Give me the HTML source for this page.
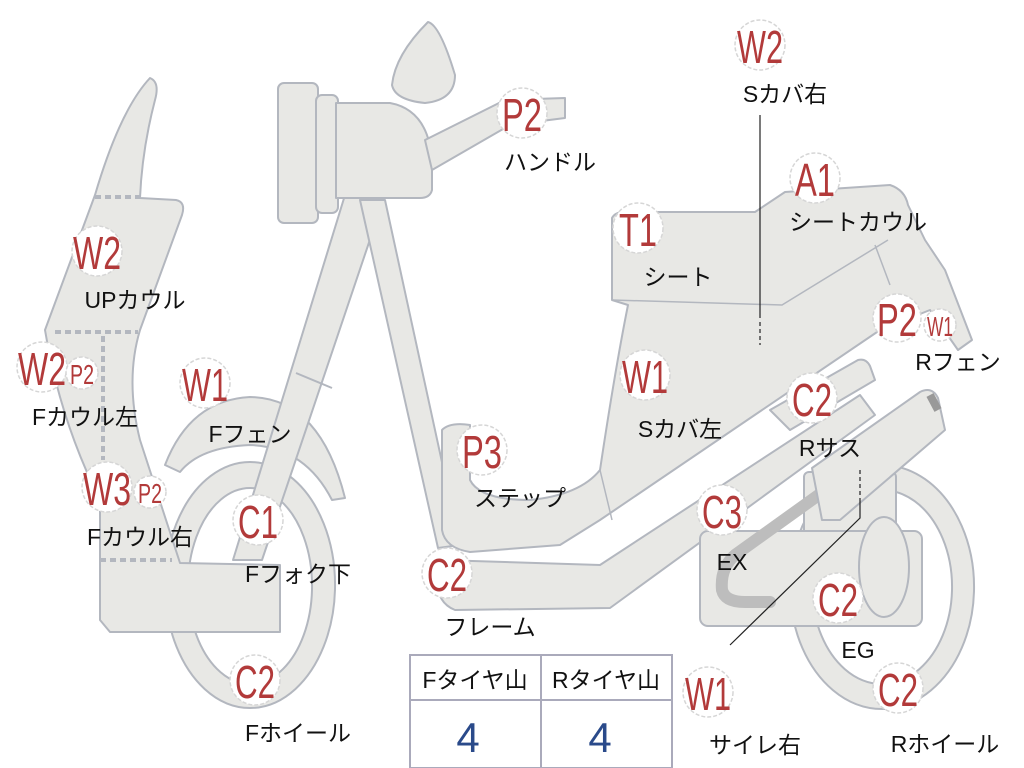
<!DOCTYPE html>
<html><head><meta charset="utf-8"><style>
html,body{margin:0;padding:0;background:#fff;width:1024px;height:768px;overflow:hidden}
svg{display:block}
.b{fill:#e8e8e5;stroke:#b3b7bf;stroke-width:2;stroke-linejoin:round}
.c{fill:#fff;stroke:#d6d6d6;stroke-width:1.5;stroke-dasharray:4 2}
.r{fill:#b23a3a;font-family:"Liberation Sans",sans-serif;text-anchor:middle}
.k{fill:#111;font-family:"Liberation Sans","Noto Sans CJK JP",sans-serif;font-size:23px;text-anchor:middle}
</style></head><body>
<svg width="1024" height="768" viewBox="0 0 1024 768">
<!-- front wheel -->
<path class="b" fill-rule="evenodd" d="M250,462 a85,123 0 1,0 0.1,0 Z M250,488 a62,98 0 1,0 0.1,0 Z"/>
<!-- front cowl -->
<path class="b" d="M150,78 Q160,82 155,100 Q142,150 140,198 L176,200 Q186,202 182,215 L140,330 Q125,380 140,440 L180,563 L280,565 L280,632 L110,632 L100,620 L100,500 Q60,420 45,330 L95,195 Q120,110 150,78 Z"/>
<path d="M95,197 L140,197 M55,332 L138,332 M103,336 L103,460 M100,560 L172,560" stroke="#b3b7bf" stroke-width="4" stroke-dasharray="6 4" fill="none"/>
<!-- fender -->
<path class="b" d="M165,465 Q190,400 250,397 Q320,398 345,498 L332,500 Q305,447 250,445 Q200,447 180,472 Z"/>
<!-- fork -->
<path class="b" d="M345,195 L385,195 L262,560 L233,560 Z"/>
<path d="M296,373 L332,388" stroke="#b3b7bf" stroke-width="2"/>
<!-- frame down tube -->
<path class="b" d="M360,200 L385,200 L460,545 L438,548 Z"/>
<!-- body -->
<path class="b" d="M442,430 Q450,422 470,425 L470,480 Q480,500 530,500 Q580,495 600,470 Q615,370 628,305 L612,300 L612,218 Q615,212 625,212 L755,212 L785,192 L890,185 Q905,190 908,205 L925,240 L945,270 L972,340 L958,350 L930,310 L880,330 L600,520 L560,545 L470,552 Q445,548 442,530 Z"/>
<path d="M612,300 L782,305 L888,240 M600,470 L612,520 M875,245 L890,285" stroke="#b3b7bf" stroke-width="1.5" fill="none"/>
<!-- lower frame -->
<path class="b" d="M440,560 L600,565 L860,395 L875,415 L610,608 L455,610 Q430,600 440,560 Z"/>
<!-- rear wheel -->
<path class="b" fill-rule="evenodd" d="M882,465 a92,122 0 1,0 0.1,0 Z M882,490 a70,97 0 1,0 0.1,0 Z"/>
<!-- engine -->
<rect class="b" x="804" y="472" width="92" height="65" rx="5"/>
<rect class="b" x="700" y="531" width="222" height="95" rx="8"/>
<ellipse class="b" cx="884" cy="567" rx="25" ry="50"/>
<path d="M820,494 L735,555 Q720,568 722,590 Q725,602 745,602 L770,602" stroke="#bdbdbd" stroke-width="12" fill="none" stroke-linecap="round"/>
<!-- rear suspension -->
<path class="b" d="M770,410 L858,360 Q866,358 870,366 L875,380 L790,430 Z"/>
<path class="b" d="M812,468 L920,392 Q932,386 938,398 L945,430 L840,520 L822,520 Z"/>
<path d="M930,395 L938,410" stroke="#999" stroke-width="8"/>
<!-- headlight -->
<rect class="b" x="278" y="83" width="40" height="140" rx="6"/>
<rect class="b" x="316" y="95" width="22" height="118" rx="6"/>
<path class="b" d="M336,103 L390,103 Q428,110 432,160 L432,190 Q430,198 420,198 L336,198 Z"/>
<path class="b" d="M425,140 L505,100 L565,98 L565,118 L510,125 L432,170 Z"/>
<path class="b" d="M428,22 Q440,25 455,75 Q455,100 425,103 Q395,100 392,85 Q395,55 428,22 Z"/>
<!-- lines -->
<path d="M760,115 L760,318" stroke="#222" stroke-width="1.2"/>
<path d="M760,322 L760,345" stroke="#222" stroke-width="1.2" stroke-dasharray="4 3"/>
<path d="M860,470 L860,500" stroke="#222" stroke-width="1.2" stroke-dasharray="4 3"/>
<path d="M860,500 L860,518 L730,645" stroke="#222" stroke-width="1.2" fill="none"/>
<!-- table -->
<rect x="410" y="655" width="262" height="113" fill="#fff" stroke="#aab" stroke-width="2"/>
<path d="M410,700 L672,700 M541,655 L541,768" stroke="#aab" stroke-width="2"/>
<text class="k" x="475" y="688">Fタイヤ山</text>
<text class="k" x="606" y="688">Rタイヤ山</text>
<text x="468" y="752" fill="#2a4a8a" font-family="Liberation Sans,sans-serif" font-size="42" text-anchor="middle">4</text>
<text x="600" y="752" fill="#2a4a8a" font-family="Liberation Sans,sans-serif" font-size="42" text-anchor="middle">4</text>

<g>
<circle class="c" cx="760" cy="45" r="25"/><text class="r" x="760" y="63" font-size="46" textLength="46" lengthAdjust="spacingAndGlyphs">W2</text>
<circle class="c" cx="522" cy="113" r="25"/><text class="r" x="522" y="131" font-size="46" textLength="40" lengthAdjust="spacingAndGlyphs">P2</text>
<circle class="c" cx="815" cy="178" r="25"/><text class="r" x="815" y="196" font-size="46" textLength="40" lengthAdjust="spacingAndGlyphs">A1</text>
<circle class="c" cx="638" cy="228" r="25"/><text class="r" x="638" y="246" font-size="46" textLength="38" lengthAdjust="spacingAndGlyphs">T1</text>
<circle class="c" cx="97" cy="251" r="25"/><text class="r" x="97" y="269" font-size="46" textLength="48" lengthAdjust="spacingAndGlyphs">W2</text>
<circle class="c" cx="897" cy="318" r="24"/><text class="r" x="897" y="336" font-size="46" textLength="40" lengthAdjust="spacingAndGlyphs">P2</text>
<circle class="c" cx="940" cy="325" r="16"/><text class="r" x="940" y="336" font-size="28" textLength="26" lengthAdjust="spacingAndGlyphs">W1</text>
<circle class="c" cx="42" cy="367" r="25"/><text class="r" x="42" y="385" font-size="46" textLength="48" lengthAdjust="spacingAndGlyphs">W2</text>
<circle class="c" cx="82" cy="373" r="16"/><text class="r" x="82" y="384" font-size="28" textLength="24" lengthAdjust="spacingAndGlyphs">P2</text>
<circle class="c" cx="205" cy="383" r="25"/><text class="r" x="205" y="401" font-size="46" textLength="46" lengthAdjust="spacingAndGlyphs">W1</text>
<circle class="c" cx="645" cy="375" r="25"/><text class="r" x="645" y="393" font-size="46" textLength="46" lengthAdjust="spacingAndGlyphs">W1</text>
<circle class="c" cx="812" cy="398" r="25"/><text class="r" x="812" y="416" font-size="46" textLength="40" lengthAdjust="spacingAndGlyphs">C2</text>
<circle class="c" cx="482" cy="450" r="25"/><text class="r" x="482" y="468" font-size="46" textLength="40" lengthAdjust="spacingAndGlyphs">P3</text>
<circle class="c" cx="107" cy="487" r="25"/><text class="r" x="107" y="505" font-size="46" textLength="48" lengthAdjust="spacingAndGlyphs">W3</text>
<circle class="c" cx="150" cy="492" r="16"/><text class="r" x="150" y="503" font-size="28" textLength="24" lengthAdjust="spacingAndGlyphs">P2</text>
<circle class="c" cx="258" cy="520" r="25"/><text class="r" x="258" y="538" font-size="46" textLength="40" lengthAdjust="spacingAndGlyphs">C1</text>
<circle class="c" cx="722" cy="510" r="25"/><text class="r" x="722" y="528" font-size="46" textLength="40" lengthAdjust="spacingAndGlyphs">C3</text>
<circle class="c" cx="447" cy="573" r="25"/><text class="r" x="447" y="591" font-size="46" textLength="40" lengthAdjust="spacingAndGlyphs">C2</text>
<circle class="c" cx="838" cy="598" r="25"/><text class="r" x="838" y="616" font-size="46" textLength="40" lengthAdjust="spacingAndGlyphs">C2</text>
<circle class="c" cx="255" cy="680" r="25"/><text class="r" x="255" y="698" font-size="46" textLength="40" lengthAdjust="spacingAndGlyphs">C2</text>
<circle class="c" cx="708" cy="692" r="25"/><text class="r" x="708" y="710" font-size="46" textLength="46" lengthAdjust="spacingAndGlyphs">W1</text>
<circle class="c" cx="898" cy="688" r="25"/><text class="r" x="898" y="706" font-size="46" textLength="40" lengthAdjust="spacingAndGlyphs">C2</text>
</g>
<g>
<text class="k" x="785" y="102">Sカバ右</text>
<text class="k" x="550" y="170">ハンドル</text>
<text class="k" x="858" y="230">シートカウル</text>
<text class="k" x="678" y="285">シート</text>
<text class="k" x="135" y="308">UPカウル</text>
<text class="k" x="958" y="370">Rフェン</text>
<text class="k" x="85" y="425">Fカウル左</text>
<text class="k" x="250" y="442">Fフェン</text>
<text class="k" x="680" y="437">Sカバ左</text>
<text class="k" x="830" y="456">Rサス</text>
<text class="k" x="520" y="506">ステップ</text>
<text class="k" x="140" y="545">Fカウル右</text>
<text class="k" x="298" y="582">Fフォク下</text>
<text class="k" x="732" y="570">EX</text>
<text class="k" x="490" y="635">フレーム</text>
<text class="k" x="858" y="658">EG</text>
<text class="k" x="298" y="741">Fホイール</text>
<text class="k" x="755" y="753">サイレ右</text>
<text class="k" x="945" y="752">Rホイール</text>
</g>
</svg>
</body></html>
